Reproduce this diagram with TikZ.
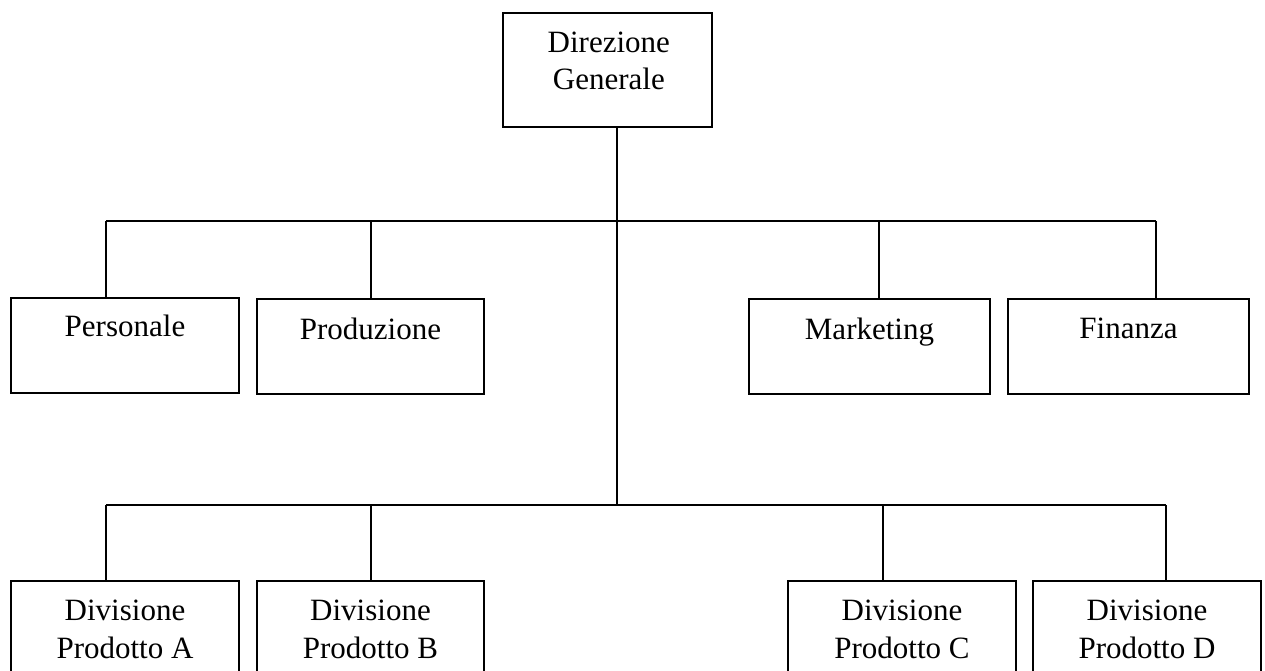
\documentclass[tikz,border=0pt]{standalone}
\usepackage{fontspec}
\setmainfont{Liberation Serif}
\usetikzlibrary{positioning}

\begin{document}
\begin{tikzpicture}[x=0.75pt,y=-0.75pt,line width=1pt,
    orgbox/.style={draw, minimum width=#1, minimum height=71.25pt, inner sep=0pt},
    orgtext/.style={align=center, inner sep=0pt, font=\fontsize{23.25}{28}\selectfont}]
    \useasboundingbox (0,0) rectangle (1265,671);

    % boxes
    \node[orgbox=156.75pt, minimum height=85.5pt] (dg) at (607.5,70) {};
    \node[orgbox=171pt] (pers) at (125,345.5) {};
    \node[orgbox=170.25pt] (prod) at (370.5,346.5) {};
    \node[orgbox=180.75pt] (mark) at (869.5,346.5) {};
    \node[orgbox=180.75pt] (fin) at (1128.5,346.5) {};
    \node[orgbox=171pt] (divA) at (125,628.5) {};
    \node[orgbox=170.25pt] (divB) at (370.5,628.5) {};
    \node[orgbox=171pt] (divC) at (902,628.5) {};
    \node[orgbox=171pt] (divD) at (1147,628.5) {};

    % texts
    \node[orgtext, below=14pt of dg.north, xshift=1pt] (dgt) {Direzione\\Generale};
    \node[orgtext, below=13pt of pers.north] (perst) {Personale};
    \node[orgtext, below=14pt of prod.north] (prodt) {Produzione};
    \node[orgtext, below=14pt of mark.north] (markt) {Marketing};
    \node[orgtext, below=14pt of fin.north] (fint) {Finanza};
    \node[orgtext, below=14.5pt of divA.north] (divAt) {Divisione\\Prodotto A};
    \node[orgtext, below=14.5pt of divB.north] (divBt) {Divisione\\Prodotto B};
    \node[orgtext, below=14.5pt of divC.north] (divCt) {Divisione\\Prodotto C};
    \node[orgtext, below=14.5pt of divD.north] (divDt) {Divisione\\Prodotto D};

    % connectors
    \coordinate (bus1) at (617,221);
    \coordinate (bus2) at (617,505);
    \coordinate (kPers) at (106,221);
    \coordinate (kProd) at (371,221);
    \coordinate (kMark) at (879,221);
    \coordinate (kFin) at (1156,221);
    \coordinate (kA) at (106,505);
    \coordinate (kB) at (371,505);
    \coordinate (kC) at (883,505);
    \coordinate (kD) at (1166,505);

    \draw (dg.south -| bus1) -- (bus2);
    \draw (kPers) -- (kFin);
    \draw (kA) -- (kD);
    \foreach \k/\n in {kPers/pers, kProd/prod, kMark/mark, kFin/fin, kA/divA, kB/divB, kC/divC, kD/divD}
        \draw (\k) -- (\k |- \n.north);
\end{tikzpicture}
\end{document}
